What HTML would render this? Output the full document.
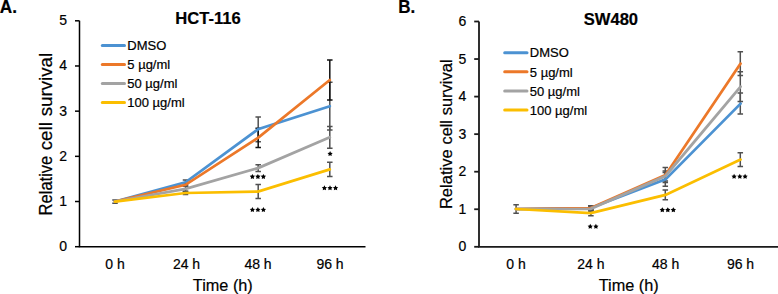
<!DOCTYPE html>
<html><head><meta charset="utf-8"><style>
html,body{margin:0;padding:0;background:#fff;width:778px;height:294px;overflow:hidden}
svg{display:block}
text{font-family:"Liberation Sans",sans-serif;fill:#000;stroke:#000;stroke-width:0.2px}
</style></head><body>
<svg width="778" height="294" viewBox="0 0 778 294">
<rect width="778" height="294" fill="#fff"/>
<text transform="translate(-0.2,12.8) scale(1,1.12)" font-size="17.2" font-weight="bold" stroke="#000" stroke-width="0.5">A.</text>
<text transform="translate(398.2,12.7) scale(1,1.1)" font-size="17" font-weight="bold" stroke="#000" stroke-width="0.35">B.</text>
<path d="M79.5,20.8 V246.7 H365.5" fill="none" stroke="#000" stroke-width="1.5"/>
<line x1="75.0" y1="246.7" x2="79.5" y2="246.7" stroke="#000" stroke-width="1.5"/>
<text x="67" y="251.2" text-anchor="end" font-size="14">0</text>
<line x1="75.0" y1="201.51" x2="79.5" y2="201.51" stroke="#000" stroke-width="1.5"/>
<text x="67" y="206.01" text-anchor="end" font-size="14">1</text>
<line x1="75.0" y1="156.34" x2="79.5" y2="156.34" stroke="#000" stroke-width="1.5"/>
<text x="67" y="160.84" text-anchor="end" font-size="14">2</text>
<line x1="75.0" y1="111.16" x2="79.5" y2="111.16" stroke="#000" stroke-width="1.5"/>
<text x="67" y="115.66" text-anchor="end" font-size="14">3</text>
<line x1="75.0" y1="65.98" x2="79.5" y2="65.98" stroke="#000" stroke-width="1.5"/>
<text x="67" y="70.48" text-anchor="end" font-size="14">4</text>
<line x1="75.0" y1="20.80" x2="79.5" y2="20.80" stroke="#000" stroke-width="1.5"/>
<text x="67" y="25.30" text-anchor="end" font-size="14">5</text>
<text x="115" y="268.6" text-anchor="middle" font-size="14">0 h</text>
<text x="186.5" y="268.6" text-anchor="middle" font-size="14">24 h</text>
<text x="258" y="268.6" text-anchor="middle" font-size="14">48 h</text>
<text x="330" y="268.6" text-anchor="middle" font-size="14">96 h</text>
<text x="222.8" y="290.8" text-anchor="middle" font-size="16.3">Time (h)</text>
<g transform="translate(51.7,0) rotate(-90)"><text x="-215.4" y="0" font-size="18" textLength="59.69" lengthAdjust="spacingAndGlyphs">Relative</text><text x="-150.3" y="0" font-size="18" textLength="28.10" lengthAdjust="spacingAndGlyphs">cell</text><text x="-116.3" y="0" font-size="18" textLength="63.49" lengthAdjust="spacingAndGlyphs">survival</text></g>
<text x="175.3" y="24.2" font-size="16.6" font-weight="bold">HCT-116</text>
<line x1="102.3" y1="45.4" x2="124.5" y2="45.4" stroke="#4C92D2" stroke-width="3" stroke-linecap="round"/>
<text x="127.3" y="49.7" font-size="13">DMSO</text>
<line x1="102.3" y1="64.4" x2="124.5" y2="64.4" stroke="#EC7829" stroke-width="3" stroke-linecap="round"/>
<text x="127.3" y="69.2" font-size="13">5 µg/ml</text>
<line x1="102.3" y1="83.4" x2="124.5" y2="83.4" stroke="#A3A3A3" stroke-width="3" stroke-linecap="round"/>
<text x="127.3" y="88.2" font-size="13">50 µg/ml</text>
<line x1="102.3" y1="102.4" x2="124.5" y2="102.4" stroke="#FBBE00" stroke-width="3" stroke-linecap="round"/>
<text x="127.3" y="106.9" font-size="13">100 µg/ml</text>
<path d="M185.5,180.0 V184.60 M182.75,180.0 H188.25 M182.75,184.60 H188.25" fill="none" stroke="#505050" stroke-width="1.5"/>
<path d="M258.2,116.9 V141.70 M255.45,116.9 H260.95 M255.45,141.70 H260.95" fill="none" stroke="#505050" stroke-width="1.5"/>
<path d="M329.8,82.30 V130.1 M327.05,82.30 H332.55 M327.05,130.1 H332.55" fill="none" stroke="#505050" stroke-width="1.5"/>
<path d="M185.5,183.3 V186.3 M182.75,183.3 H188.25 M182.75,186.3 H188.25" fill="none" stroke="#111" stroke-width="1.5"/>
<path d="M258.2,128.20 V147.4 M255.45,128.20 H260.95 M255.45,147.4 H260.95" fill="none" stroke="#111" stroke-width="1.5"/>
<path d="M329.8,60.1 V99.9 M327.05,60.1 H332.55 M327.05,99.9 H332.55" fill="none" stroke="#111" stroke-width="1.5"/>
<path d="M185.5,186.3 V191.3 M182.75,186.3 H188.25 M182.75,191.3 H188.25" fill="none" stroke="#505050" stroke-width="1.5"/>
<path d="M258.2,164.79 V171.4 M255.45,164.79 H260.95 M255.45,171.4 H260.95" fill="none" stroke="#505050" stroke-width="1.5"/>
<path d="M329.8,126.4 V148.20 M327.05,126.4 H332.55 M327.05,148.20 H332.55" fill="none" stroke="#505050" stroke-width="1.5"/>
<path d="M115,200.0 V203.2 M112.25,200.0 H117.75 M112.25,203.2 H117.75" fill="none" stroke="#505050" stroke-width="1.5"/>
<path d="M185.5,191.4 V194.6 M182.75,191.4 H188.25 M182.75,194.6 H188.25" fill="none" stroke="#505050" stroke-width="1.5"/>
<path d="M258.2,184.6 V198.6 M255.45,184.6 H260.95 M255.45,198.6 H260.95" fill="none" stroke="#505050" stroke-width="1.5"/>
<path d="M329.8,162.3 V176.5 M327.05,162.3 H332.55 M327.05,176.5 H332.55" fill="none" stroke="#505050" stroke-width="1.5"/>
<polyline points="115,201.5 185.5,182.3 258,129.3 329.8,106.2" fill="none" stroke="#4C92D2" stroke-width="2.75" stroke-linejoin="miter" stroke-linecap="round"/>
<polyline points="115,201.5 185.5,184.8 258,137.8 329.8,80" fill="none" stroke="#EC7829" stroke-width="2.75" stroke-linejoin="miter" stroke-linecap="round"/>
<polyline points="115,201.5 185.5,188.8 258,168.1 329.8,137.3" fill="none" stroke="#A3A3A3" stroke-width="2.75" stroke-linejoin="miter" stroke-linecap="round"/>
<polyline points="115,201.6 185.5,193 258,191.6 329.8,169.4" fill="none" stroke="#FBBE00" stroke-width="2.75" stroke-linejoin="miter" stroke-linecap="round"/>
<polygon points="252.40,173.95 251.55,175.53 249.78,175.85 251.02,177.15 250.78,178.92 252.40,178.15 254.02,178.92 253.78,177.15 255.02,175.85 253.25,175.53" fill="#000"/>
<polygon points="257.90,173.95 257.05,175.53 255.28,175.85 256.52,177.15 256.28,178.92 257.90,178.15 259.52,178.92 259.28,177.15 260.52,175.85 258.75,175.53" fill="#000"/>
<polygon points="263.40,173.95 262.55,175.53 260.78,175.85 262.02,177.15 261.78,178.92 263.40,178.15 265.02,178.92 264.78,177.15 266.02,175.85 264.25,175.53" fill="#000"/>
<polygon points="252.40,207.05 251.55,208.63 249.78,208.95 251.02,210.25 250.78,212.02 252.40,211.25 254.02,212.02 253.78,210.25 255.02,208.95 253.25,208.63" fill="#000"/>
<polygon points="257.90,207.05 257.05,208.63 255.28,208.95 256.52,210.25 256.28,212.02 257.90,211.25 259.52,212.02 259.28,210.25 260.52,208.95 258.75,208.63" fill="#000"/>
<polygon points="263.40,207.05 262.55,208.63 260.78,208.95 262.02,210.25 261.78,212.02 263.40,211.25 265.02,212.02 264.78,210.25 266.02,208.95 264.25,208.63" fill="#000"/>
<polygon points="330.10,151.05 329.25,152.63 327.48,152.95 328.72,154.25 328.48,156.02 330.10,155.25 331.72,156.02 331.48,154.25 332.72,152.95 330.95,152.63" fill="#000"/>
<polygon points="324.40,185.35 323.55,186.93 321.78,187.25 323.02,188.55 322.78,190.32 324.40,189.55 326.02,190.32 325.78,188.55 327.02,187.25 325.25,186.93" fill="#000"/>
<polygon points="330.00,185.35 329.15,186.93 327.38,187.25 328.62,188.55 328.38,190.32 330.00,189.55 331.62,190.32 331.38,188.55 332.62,187.25 330.85,186.93" fill="#000"/>
<polygon points="335.55,185.35 334.70,186.93 332.93,187.25 334.17,188.55 333.93,190.32 335.55,189.55 337.17,190.32 336.93,188.55 338.17,187.25 336.40,186.93" fill="#000"/>
<path d="M479,21.5 V246.8 H778" fill="none" stroke="#1a1a1a" stroke-width="1.8"/>
<line x1="474.2" y1="246.8" x2="479" y2="246.8" stroke="#1a1a1a" stroke-width="1.8"/>
<text x="466.3" y="251.3" text-anchor="end" font-size="14">0</text>
<line x1="474.2" y1="209.25" x2="479" y2="209.25" stroke="#1a1a1a" stroke-width="1.8"/>
<text x="466.3" y="213.75" text-anchor="end" font-size="14">1</text>
<line x1="474.2" y1="171.7" x2="479" y2="171.7" stroke="#1a1a1a" stroke-width="1.8"/>
<text x="466.3" y="176.2" text-anchor="end" font-size="14">2</text>
<line x1="474.2" y1="134.15" x2="479" y2="134.15" stroke="#1a1a1a" stroke-width="1.8"/>
<text x="466.3" y="138.65" text-anchor="end" font-size="14">3</text>
<line x1="474.2" y1="96.6" x2="479" y2="96.6" stroke="#1a1a1a" stroke-width="1.8"/>
<text x="466.3" y="101.1" text-anchor="end" font-size="14">4</text>
<line x1="474.2" y1="59.04" x2="479" y2="59.04" stroke="#1a1a1a" stroke-width="1.8"/>
<text x="466.3" y="63.54" text-anchor="end" font-size="14">5</text>
<line x1="474.2" y1="21.5" x2="479" y2="21.5" stroke="#1a1a1a" stroke-width="1.8"/>
<text x="466.3" y="26.0" text-anchor="end" font-size="14">6</text>
<text x="516" y="268.6" text-anchor="middle" font-size="14">0 h</text>
<text x="590.8" y="268.6" text-anchor="middle" font-size="14">24 h</text>
<text x="665.6" y="268.6" text-anchor="middle" font-size="14">48 h</text>
<text x="740.5" y="268.6" text-anchor="middle" font-size="14">96 h</text>
<text x="628.7" y="290.8" text-anchor="middle" font-size="16.3">Time (h)</text>
<g transform="translate(451.9,0) rotate(-90)"><text x="-209.10" y="0" font-size="16.5" textLength="59.7" lengthAdjust="spacingAndGlyphs">Relative</text><text x="-144.5" y="0" font-size="16.5" textLength="24.50" lengthAdjust="spacingAndGlyphs">cell</text><text x="-115.3" y="0" font-size="16.5" textLength="55.9" lengthAdjust="spacingAndGlyphs">survival</text></g>
<text x="583.7" y="25.1" font-size="16.6" font-weight="bold">SW480</text>
<line x1="504.7" y1="52.75" x2="527" y2="52.75" stroke="#4C92D2" stroke-width="3" stroke-linecap="round"/>
<text x="529.8" y="56.8" font-size="13">DMSO</text>
<line x1="504.7" y1="71.8" x2="527" y2="71.8" stroke="#EC7829" stroke-width="3" stroke-linecap="round"/>
<text x="529.8" y="76.5" font-size="13">5 µg/ml</text>
<line x1="504.7" y1="90.9" x2="527" y2="90.9" stroke="#A3A3A3" stroke-width="3" stroke-linecap="round"/>
<text x="529.8" y="95.5" font-size="13">50 µg/ml</text>
<line x1="504.7" y1="110" x2="527" y2="110" stroke="#FBBE00" stroke-width="3" stroke-linecap="round"/>
<text x="529.8" y="114.5" font-size="13">100 µg/ml</text>
<path d="M516.1,204.7 V213.3 M513.35,204.7 H518.85 M513.35,213.3 H518.85" fill="none" stroke="#505050" stroke-width="1.5"/>
<path d="M590.9,206 V210 M588.15,206 H593.65 M588.15,210 H593.65" fill="none" stroke="#505050" stroke-width="1.5"/>
<path d="M665.3,172.5 V186.3 M662.55,172.5 H668.05 M662.55,186.3 H668.05" fill="none" stroke="#505050" stroke-width="1.5"/>
<path d="M740.3,93.1 V114.1 M737.55,93.1 H743.05 M737.55,114.1 H743.05" fill="none" stroke="#505050" stroke-width="1.5"/>
<path d="M590.9,206.0 V210.0 M588.15,206.0 H593.65 M588.15,210.0 H593.65" fill="none" stroke="#505050" stroke-width="1.5"/>
<path d="M665.3,167.4 V182.6 M662.55,167.4 H668.05 M662.55,182.6 H668.05" fill="none" stroke="#505050" stroke-width="1.5"/>
<path d="M740.3,51.7 V75.5 M737.55,51.7 H743.05 M737.55,75.5 H743.05" fill="none" stroke="#505050" stroke-width="1.5"/>
<path d="M590.9,205.8 V211.8 M588.15,205.8 H593.65 M588.15,211.8 H593.65" fill="none" stroke="#505050" stroke-width="1.5"/>
<path d="M665.3,171.0 V181.0 M662.55,171.0 H668.05 M662.55,181.0 H668.05" fill="none" stroke="#505050" stroke-width="1.5"/>
<path d="M740.3,71.8 V101.39 M737.55,71.8 H743.05 M737.55,101.39 H743.05" fill="none" stroke="#505050" stroke-width="1.5"/>
<path d="M590.9,210.2 V215.8 M588.15,210.2 H593.65 M588.15,215.8 H593.65" fill="none" stroke="#505050" stroke-width="1.5"/>
<path d="M665.3,190.1 V199.70 M662.55,190.1 H668.05 M662.55,199.70 H668.05" fill="none" stroke="#505050" stroke-width="1.5"/>
<path d="M740.3,152.79 V166.4 M737.55,152.79 H743.05 M737.55,166.4 H743.05" fill="none" stroke="#505050" stroke-width="1.5"/>
<polyline points="516,209 590.8,208 665.5,179.4 740.6,103.6" fill="none" stroke="#4C92D2" stroke-width="2.75" stroke-linejoin="miter" stroke-linecap="round"/>
<polyline points="516,209 590.8,208.0 665.5,175.0 740.6,63.6" fill="none" stroke="#EC7829" stroke-width="2.75" stroke-linejoin="miter" stroke-linecap="round"/>
<polyline points="516,209 590.8,208.8 665.5,176.0 740.6,86.6" fill="none" stroke="#A3A3A3" stroke-width="2.75" stroke-linejoin="miter" stroke-linecap="round"/>
<polyline points="516,209 590.8,213 665.5,194.9 740.6,159.6" fill="none" stroke="#FBBE00" stroke-width="2.75" stroke-linejoin="miter" stroke-linecap="round"/>
<polygon points="590.25,223.85 589.40,225.43 587.63,225.75 588.87,227.05 588.63,228.82 590.25,228.05 591.87,228.82 591.63,227.05 592.87,225.75 591.10,225.43" fill="#000"/>
<polygon points="595.90,223.85 595.05,225.43 593.28,225.75 594.52,227.05 594.28,228.82 595.90,228.05 597.52,228.82 597.28,227.05 598.52,225.75 596.75,225.43" fill="#000"/>
<polygon points="662.30,207.25 661.45,208.83 659.68,209.15 660.92,210.45 660.68,212.22 662.30,211.45 663.92,212.22 663.68,210.45 664.92,209.15 663.15,208.83" fill="#000"/>
<polygon points="667.80,207.25 666.95,208.83 665.18,209.15 666.42,210.45 666.18,212.22 667.80,211.45 669.42,212.22 669.18,210.45 670.42,209.15 668.65,208.83" fill="#000"/>
<polygon points="673.35,207.25 672.50,208.83 670.73,209.15 671.97,210.45 671.73,212.22 673.35,211.45 674.97,212.22 674.73,210.45 675.97,209.15 674.20,208.83" fill="#000"/>
<polygon points="734.10,173.85 733.25,175.43 731.48,175.75 732.72,177.05 732.48,178.82 734.10,178.05 735.72,178.82 735.48,177.05 736.72,175.75 734.95,175.43" fill="#000"/>
<polygon points="739.80,173.85 738.95,175.43 737.18,175.75 738.42,177.05 738.18,178.82 739.80,178.05 741.42,178.82 741.18,177.05 742.42,175.75 740.65,175.43" fill="#000"/>
<polygon points="745.10,173.85 744.25,175.43 742.48,175.75 743.72,177.05 743.48,178.82 745.10,178.05 746.72,178.82 746.48,177.05 747.72,175.75 745.95,175.43" fill="#000"/>
</svg>
</body></html>
